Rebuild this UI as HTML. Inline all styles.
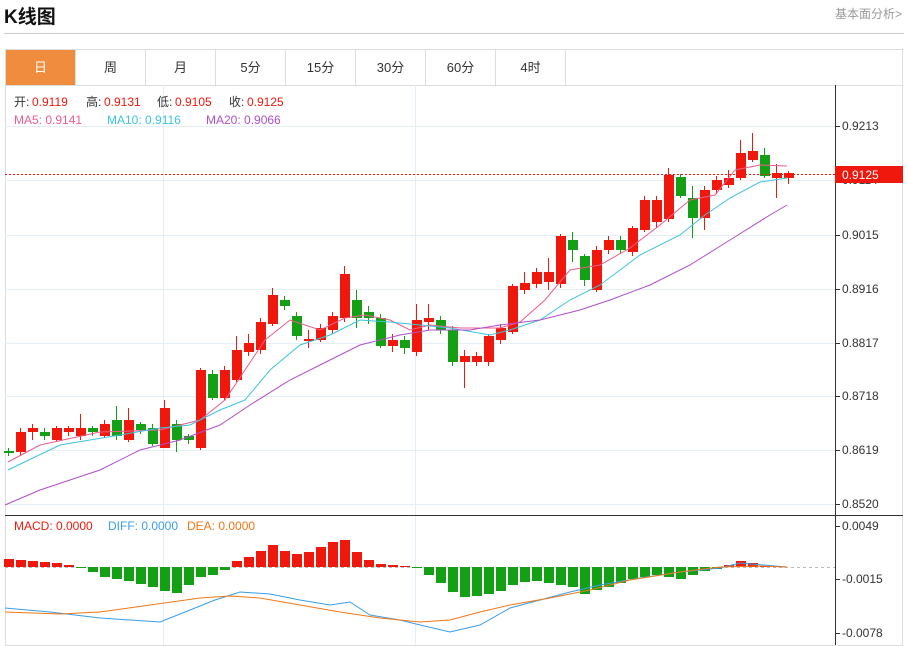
<!DOCTYPE html>
<html><head><meta charset="utf-8"><style>
body{margin:0;width:908px;height:646px;background:#fff;font-family:"Liberation Sans","Noto Sans CJK SC",sans-serif;overflow:hidden;position:relative}
.t{position:absolute;left:4px;top:2px;font-size:19px;font-weight:bold;color:#111}
.r{position:absolute;right:6px;top:5px;font-size:12px;color:#999}
.hr{position:absolute;left:4px;right:4px;top:33px;border-top:1px solid #ccc}
.tabs{position:absolute;left:5px;top:49px;height:36px;width:898px;border:1px solid #ddd;border-bottom:none;box-sizing:border-box}
.tab{position:absolute;top:0;height:36px;width:70px;border-right:1px solid #ddd;text-align:center;line-height:36px;font-size:13px;color:#333;box-sizing:border-box}
</style></head><body>
<div class="t">K线图</div><div class="r">基本面分析&gt;</div><div class="hr"></div>
<div class="tabs">
<div class="tab" style="left:0;background:#f08c3e;color:#fff">日</div>
<div class="tab" style="left:70px">周</div><div class="tab" style="left:140px">月</div>
<div class="tab" style="left:210px">5分</div><div class="tab" style="left:280px">15分</div>
<div class="tab" style="left:350px">30分</div><div class="tab" style="left:420px">60分</div>
<div class="tab" style="left:490px">4时</div></div>
<svg id="s" width="908" height="646" style="position:absolute;left:0;top:0" font-family="Liberation Sans, Noto Sans CJK SC, sans-serif"></svg>
<script>
var s='';
function L(x1,y1,x2,y2,c,w,d){s+='<line x1="'+x1+'" y1="'+y1+'" x2="'+x2+'" y2="'+y2+'" stroke="'+c+'" stroke-width="'+(w||1)+'"'+(d?' stroke-dasharray="'+d+'"':'')+'/>';}
function T(x,y,t,c,sz){s+='<text x="'+x+'" y="'+y+'" fill="'+c+'" font-size="'+(sz||12)+'">'+t+'</text>';}
s+='<rect x="5.5" y="85.5" width="897" height="560" fill="none" stroke="#ddd"/>';
[126,180,235,289,343,396,450,504].forEach(function(y){L(5,y+.5,835,y+.5,'#e3eef5');});
[163,415].forEach(function(x){L(x+.5,85,x+.5,645,'#e3eef5');});
L(835.5,85,835.5,645,'#333');L(5,515.5,903,515.5,'#333');
var lab=[[126,'0.9213'],[180,'0.9114'],[235,'0.9015'],[289,'0.8916'],[343,'0.8817'],[396,'0.8718'],[450,'0.8619'],[504,'0.8520'],[526,'0.0049'],[579,'-0.0015'],[633,'-0.0078']];
lab.forEach(function(a){L(835,a[0]+.5,840,a[0]+.5,'#333');T(842,a[0]+4,a[1],'#333');});
var C=[['g',448,451,453,456],['r',428,432,452,455],['r',424,428,432,440],['g',428,432,436,440],['r',426,428,440,442],['r',426,428,432,436],['r',414,428,436,440],['g',426,428,432,436],['r',420,424,436,438],['g',406,420,436,440],['r',408,420,440,442],['g',422,424,430,434],['g',424,428,444,446],['r',400,408,448,448],['g',420,424,440,452],['g',434,436,440,444],['r',368,370,448,450],['g',370,374,398,400],['r',366,370,398,400],['r',336,350,380,382],['r',334,343,352,356],['r',318,322,350,354],['r',288,295,324,326],['g',296,300,306,310],['g',312,316,336,340],['r',330,339,341,348],['r',324,328,340,342],['r',312,316,330,334],['r',266,274,318,322],['g',290,300,318,328],['g',306,312,318,324],['g',314,318,346,348],['r',334,340,346,352],['g',336,340,348,354],['r',304,320,352,356],['r',304,318,322,330],['g',316,320,330,334],['g',326,330,362,366],['r',350,356,362,388],['r',352,356,362,366],['r',334,336,362,366],['r',324,328,340,344],['r',284,286,332,334],['r',272,283,290,294],['r',268,272,284,288],['r',258,272,282,290],['r',234,236,284,288],['g',232,240,250,262],['g',254,256,280,286],['r',246,250,290,292],['r',236,240,250,254],['g',236,240,250,254],['r',226,228,252,256],['r',196,200,230,232],['r',196,200,222,228],['r',168,175,219,222],['g',174,177,196,198],['g',186,198,218,238],['r',186,190,218,230],['r',176,180,190,194],['r',170,178,185,188],['r',140,153,178,180],['r',133,151,160,162],['g',148,155,176,178],['r',164,173,178,198],['r',171,173,178,184]];
C.forEach(function(c,i){var x=8+i*12,col=c[0]=='r'?'#f0180c':'#14a014';L(x+.5,c[1],x+.5,c[4],col);s+='<rect x="'+(x-4)+'" y="'+c[2]+'" width="10" height="'+Math.max(1,c[3]-c[2])+'" fill="'+col+'"/>';});
function P(pts,c){s+='<polyline fill="none" stroke="'+c+'" stroke-width="1" points="'+pts+'"/>';}
P('8,462 40,445 100,432 160,430 200,420 225,400 245,370 265,340 290,320 320,330 345,318 365,315 390,320 410,330 430,325 460,328 500,328 520,322 545,300 570,270 600,265 630,248 660,225 690,200 715,195 735,170 760,165 787,166','#ec5c8c');
P('8,470 60,445 120,435 160,428 190,425 220,410 245,400 270,370 300,345 330,335 360,320 390,322 420,325 450,328 490,335 510,330 540,320 570,300 600,285 640,255 680,235 705,215 730,198 760,182 787,178','#3cc4dc');
P('5,505 40,490 100,470 140,450 180,440 220,425 250,405 290,380 320,365 360,345 400,335 430,330 470,330 500,325 540,320 580,310 610,300 650,285 690,265 730,240 770,215 787,205','#b050c8');
L(5,174.5,835,174.5,'#f0180c',1,'2,2');
s+='<rect x="835" y="166" width="68" height="17" fill="#f0180c"/>';T(842,179,'0.9125','#fff');
T(14,106,'开:','#333');T(32,106,'0.9119','#f0180c');T(86,106,'高:','#333');T(104,106,'0.9131','#f0180c');T(157,106,'低:','#333');T(175,106,'0.9105','#f0180c');T(229,106,'收:','#333');T(247,106,'0.9125','#f0180c');
T(14,124,'MA5: 0.9141','#ec5c8c');T(107,124,'MA10: 0.9116','#3cc4dc');T(206,124,'MA20: 0.9066','#b050c8');
T(14,530,'MACD: 0.0000','#f0180c');T(108,530,'DIFF: 0.0000','#3a9ee8');T(187,530,'DEA: 0.0000','#f07818');
L(5,567.5,835,567.5,'#bbb',1,'3,3');
var H=[8,7,6,5,4,2,-1,-5,-10,-12,-14,-17,-20,-24,-26,-18,-10,-8,-3,6,10,16,22,16,13,15,20,25,27,15,7,3,2,1,-1,-8,-16,-25,-30,-29,-27,-24,-18,-15,-14,-16,-18,-20,-27,-23,-20,-16,-12,-10,-8,-10,-12,-8,-4,-2,2,6,4,1,0,0];
H.forEach(function(h,i){var x=8+i*12;if(h==0)return;s+='<rect x="'+(x-4)+'" y="'+(h>0?567-h:567)+'" width="10" height="'+Math.abs(h)+'" fill="'+(h>0?'#f0180c':'#14a014')+'"/>';});
P('5,608 50,612 100,618 160,622 190,610 215,600 240,592 270,594 300,600 330,605 350,602 370,615 400,620 420,625 450,632 480,625 510,608 540,600 570,592 600,585 640,578 680,572 720,568 740,563 787,567','#3a9ee8');
P('5,612 60,614 100,612 150,605 200,598 230,596 260,598 300,605 340,612 380,618 420,622 450,620 480,612 510,605 550,598 590,590 630,580 680,572 720,567 760,566 787,567','#f07818');
document.getElementById('s').innerHTML=s;
</script>
</body></html>
